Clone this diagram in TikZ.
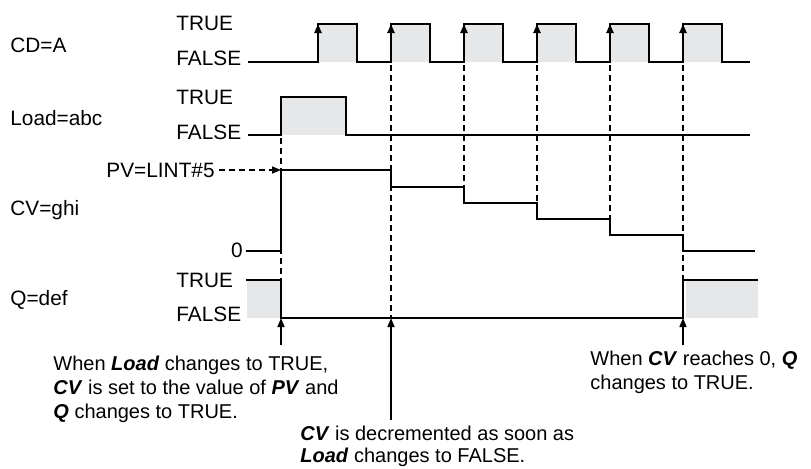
\documentclass[tikz,border=0pt]{standalone}
\usepackage{fontspec}
\setmainfont{Liberation Sans}
\usetikzlibrary{arrows.meta,calc}
\definecolor{pulsegray}{HTML}{E6E7E8}
\newcommand{\kw}[1]{\textbf{\textit{#1}}}
\tikzset{
  wave/.style={draw=black,line width=1.1pt,line join=miter},
  hifill/.style={fill=pulsegray,draw=none},
  guide/.style={draw=black,line width=1pt,dash pattern=on 3pt off 2pt},
  edgeup/.style={-{Triangle[length=4.5pt,width=3.5pt]},line width=1.1pt},
  note/.style={-{Triangle[length=4.5pt,width=3.5pt]},line width=0.8pt},
  lbl/.style={font=\fontsize{10.4}{12}\selectfont,inner sep=0pt},
  signame/.style={lbl,anchor=west},
  lvl/.style={lbl,anchor=west},
  txt/.style={lbl,align=left,anchor=north west},
}

\begin{document}
\begin{tikzpicture}[x=0.5pt,y=-0.5pt]
  \useasboundingbox (0,0) rectangle (811,468);

  % ===== signal names and levels =====
  \node[signame] (cdName)   at (10,45)  {CD=A};
  \node[signame] (ldName)   at (10,118) {Load=abc};
  \node[signame] (cvName)   at (10,210) {CV=ghi};
  \node[signame] (qName)    at (10,300) {Q=def};
  \node[lvl] (cdT) at (176,23)  {TRUE};
  \node[lvl] (cdF) at (176,58)  {FALSE};
  \node[lvl] (ldT) at (176,97)  {TRUE};
  \node[lvl] (ldF) at (176,132) {FALSE};
  \node[lvl] (qT)  at (176,280) {TRUE};
  \node[lvl] (qF)  at (176,314) {FALSE};
  \node[lbl,anchor=east] (zero) at (243,250) {0};
  \node[lbl,anchor=east] (pv)   at (215,170) {PV=LINT\#5};

  % ===== grey TRUE areas =====
  \foreach \r in {318,391,...,683} \fill[hifill] (\r,24) rectangle (\r+39,62);
  \fill[hifill] (281,97) rectangle (346,135);
  \fill[hifill] (247,280) rectangle (281,318);
  \fill[hifill] (686,280) rectangle (758,318);

  % ===== dashed guides =====
  \draw[guide] (281,138) -- (281,318);
  \draw[guide] (391,65) -- (391,318);
  \draw[guide] (464,65) -- (464,203);
  \draw[guide] (537,65) -- (537,219);
  \draw[guide] (610,65) -- (610,235);
  \draw[guide] (683,65) -- (683,318);
  \coordinate (pvIn) at (281,170);
  \draw[guide,-{Triangle[length=4.5pt,width=3.5pt]},line width=0.8pt] (pv.east)++(4,0) -- (pvIn);

  % ===== CD =====
  \draw[wave] (248,62) \foreach \r in {318,391,...,683} {
      -- (\r,62) -- (\r,24) -- (\r+39,24) -- (\r+39,62) } -- (750,62);
  \foreach \r in {318,391,...,683} \draw[edgeup] (\r,62) -- (\r,24);

  % ===== Load =====
  \draw[wave] (248,135) -- (281,135) -- (281,97) -- (346,97) -- (346,135) -- (750,135);

  % ===== CV =====
  \draw[wave] (246,251) -- (281,251) -- (281,170) -- (391,170) -- (391,187)
    -- (464,187) -- (464,203) -- (537,203) -- (537,219) -- (610,219)
    -- (610,235) -- (683,235) -- (683,251) -- (755,251);

  % ===== Q =====
  \draw[wave] (246,280) -- (281,280) -- (281,318) -- (683,318) -- (683,280) -- (758,280);

  % ===== notes =====
  \coordinate (qFall) at (281,318);
  \coordinate (ldFall) at (391,318);
  \coordinate (qRise) at (683,318);
  \coordinate (t1) at (281,345);
  \coordinate (t2) at (391,420);
  \coordinate (t3) at (683,345);
  \draw[note] (t1) -- (qFall);
  \draw[note] (t2) -- (ldFall);
  \draw[note] (t3) -- (qRise);
  \node[txt,font=\fontsize{10}{12}\selectfont] (n1) at (53,356)
    {When \kw{Load} changes to TRUE,\\\kw{CV} is set to the value of \kw{PV} and\\\kw{Q} changes to TRUE.};
  \node[txt,font=\fontsize{10}{11}\selectfont] (n2) at (300,426)
    {\kw{CV} is decremented as soon as\\\kw{Load} changes to FALSE.};
  \node[txt,font=\fontsize{10}{12}\selectfont] (n3) at (590,351)
    {When \kw{CV} reaches 0, \kw{Q}\\changes to TRUE.};
\end{tikzpicture}
\end{document}
